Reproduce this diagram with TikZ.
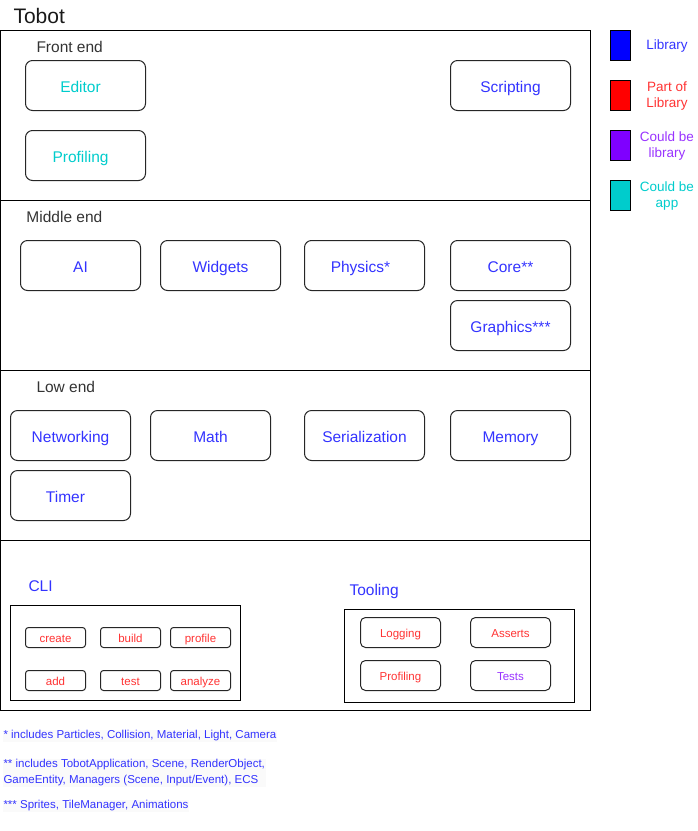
\documentclass[tikz,border=0pt]{standalone}
\usepackage{fontspec}
\setmainfont{Liberation Sans}
\definecolor{libblue}{HTML}{3333FF}
\definecolor{partred}{HTML}{FF3333}
\definecolor{maybelib}{HTML}{9933FF}
\definecolor{maybeapp}{HTML}{00CCCC}
\begin{document}
\begin{tikzpicture}[x=1pt,y=-1pt,line width=1pt,
    box/.style={draw=black!85,rounded corners=7pt,minimum width=120pt,minimum height=50pt,inner sep=0pt,anchor=north west,text=libblue,text height=13.5pt,text depth=0pt,font=\fontsize{15.5}{18}\selectfont},
    nudge/.style={execute at begin node={\kern-#1}},
    cmd/.style={draw=black!85,rounded corners=3pt,minimum width=60pt,minimum height=20pt,inner sep=0pt,anchor=north west,text=partred,text height=10pt,text depth=0pt,font=\fontsize{11.5}{13}\selectfont},
    tool/.style={cmd,minimum width=80pt,minimum height=30pt,rounded corners=5pt},
    head/.style={anchor=west,inner sep=0pt,text=black!80,font=\fontsize{15.5}{18}\selectfont},
    swatch/.style={draw,minimum width=20pt,minimum height=30pt,inner sep=0pt,anchor=north west},
    key/.style={align=center,inner sep=0pt,font=\fontsize{13.5}{16}\selectfont},
    note/.style={anchor=west,inner sep=1pt,fill=black!2,text=libblue,align=left,font=\fontsize{11.5}{16}\selectfont}]
    \useasboundingbox (0,0) rectangle (698,831);
    \node[anchor=west,inner sep=0pt,text=black!90,font=\fontsize{21}{24}\selectfont] (title) at (13,16) {Tobot};
    % layers
    \draw (0,30) rectangle (590,200);
    \draw (0,200) rectangle (590,370);
    \draw (0,370) rectangle (590,540);
    \draw (0,540) rectangle (590,710);
    % front end
    \node[head] (front) at (36,46.5) {Front end};
    \node[box,text=maybeapp,nudge=10pt] (editor) at (25,60) {Editor};
    \node[box,text=maybeapp,nudge=10pt] (feprof) at (25,130) {Profiling};
    \node[box] (scripting) at (450,60) {Scripting};
    % middle end
    \node[head] (middle) at (26,216.5) {Middle end};
    \node[box] (ai) at (20,240) {AI};
    \node[box] (widgets) at (160,240) {Widgets};
    \node[box,nudge=8pt] (physics) at (304,240) {Physics*};
    \node[box] (core) at (450,240) {Core**};
    \node[box] (graphics) at (450,300) {Graphics***};
    % low end
    \node[head] (low) at (36,386.5) {Low end};
    \node[box] (networking) at (10,410) {Networking};
    \node[box] (math) at (150,410) {Math};
    \node[box] (serialization) at (304,410) {Serialization};
    \node[box] (memory) at (450,410) {Memory};
    \node[box,nudge=10pt] (timer) at (10,470) {Timer};
    % cli
    \node[head,text=libblue] (cli) at (28,586) {CLI};
    \draw (10,605) rectangle (240,700);
    \node[cmd] (create) at (25,627) {create};
    \node[cmd] (build) at (100,627) {build};
    \node[cmd] (profile) at (170,627) {profile};
    \node[cmd] (add) at (25,670) {add};
    \node[cmd] (test) at (100,670) {test};
    \node[cmd] (analyze) at (170,670) {analyze};
    % tooling
    \node[head,text=libblue] (tooling) at (349,591) {Tooling};
    \draw (344,609) rectangle (574,702);
    \node[tool] (logging) at (360,617) {Logging};
    \node[tool] (asserts) at (470,617) {Asserts};
    \node[tool] (tlprof) at (360,660) {Profiling};
    \node[tool,text=maybelib] (tests) at (470,660) {Tests};
    % legend
    \node[swatch,fill=blue] (kl) at (610,30) {};
    \node[swatch,fill=red] (kp) at (610,80) {};
    \node[swatch,fill={rgb,255:red,127;green,0;blue,255}] (kc) at (610,130) {};
    \node[swatch,fill=maybeapp] (ka) at (610,180) {};
    \node[key,text=libblue] (tl) at (667,46.5) {Library};
    \node[key,text=partred] (tp) at (667,96.5) {Part of\\Library};
    \node[key,text=maybelib] (tc) at (667,146.5) {Could be\\library};
    \node[key,text=maybeapp] (ta) at (667,196.5) {Could be\\app};
    % notes
    \node[note] (n1) at (2,736) {* includes Particles, Collision, Material, Light, Camera};
    \node[note] (n2) at (2,773) {** includes TobotApplication, Scene, RenderObject,\\GameEntity, Managers (Scene, Input/Event), ECS};
    \node[note] (n3) at (2,806) {*** Sprites, TileManager, Animations};
\end{tikzpicture}
\end{document}
